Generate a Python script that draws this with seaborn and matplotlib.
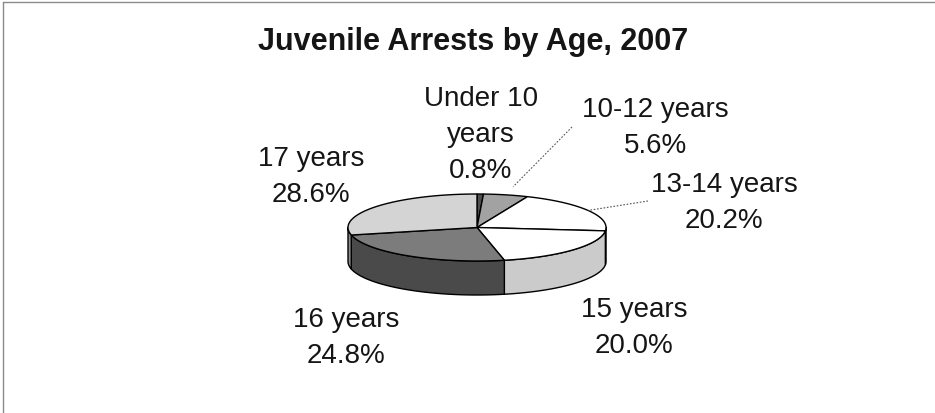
import numpy as np
import matplotlib
matplotlib.use("Agg")
import matplotlib.pyplot as plt
import seaborn as sns
from matplotlib.patches import Polygon

# Juvenile arrests by age group, 2007 (percent of all juvenile arrests)
categories = ["Under 10 years", "10-12 years", "13-14 years", "15 years", "16 years", "17 years"]
label_lines = [["Under 10", "years"], ["10-12 years"], ["13-14 years"], ["15 years"], ["16 years"], ["17 years"]]
shares = [0.8, 5.6, 20.2, 20.0, 24.8, 28.6]

title = "Juvenile Arrests by Age, 2007"

# grey fills for the top faces and the visible outer walls
top_colors = ["#4f4f4f", "#a2a2a2", "#ffffff", "#ffffff", "#7c7c7c", "#d4d4d4"]
side_colors = ["#3a3a3a", "#7a7a7a", "#d9d9d9", "#cbcbcb", "#4a4a4a", "#8c8c8c"]

# label placement: centre x, baseline of first line
label_pos = [(481, 106), (655, 117), (724, 192), (634, 317), (346, 327), (311, 166)]
# leader lines (label anchor, radial factor at slice edge)
leaders = {1: ((572, 128), 1.25), 2: ((648, 202), 1.0)}

sns.set_theme(style="white")
plt.rcParams["font.family"] = ["Liberation Sans", "DejaVu Sans"]

W, H, DPI = 935, 414, 100
fig = plt.figure(figsize=(W / DPI, H / DPI), dpi=DPI)
ax = fig.add_axes([0, 0, 1, 1])
ax.set_xlim(0, W)
ax.set_ylim(H, 0)
ax.axis("off")

# tilted pie geometry
cx, cy, a, b, depth = 477, 228.5, 129, 33.5, 34


def pt(theta_deg, r=1.0):
    t = np.radians(theta_deg)
    return cx + r * a * np.sin(t), cy - r * b * np.cos(t)


edges = np.concatenate([[0], np.cumsum(shares)]) / np.sum(shares) * 360.0

# outer walls (front half only: 90..270 degrees clockwise from top)
for i in range(len(shares)):
    t0, t1 = max(edges[i], 90), min(edges[i + 1], 270)
    if t1 <= t0:
        continue
    ts = np.linspace(t0, t1, 80)
    xs, ys = pt(ts)
    poly = np.column_stack([np.concatenate([xs, xs[::-1]]),
                            np.concatenate([ys, ys[::-1] + depth])])
    ax.add_patch(Polygon(poly, closed=True, facecolor=side_colors[i],
                         edgecolor="black", lw=1.0, joinstyle="round"))

# top faces
for i in range(len(shares)):
    ts = np.linspace(edges[i], edges[i + 1], 120)
    xs, ys = pt(ts)
    poly = np.column_stack([np.concatenate([[cx], xs]), np.concatenate([[cy], ys])])
    ax.add_patch(Polygon(poly, closed=True, facecolor=top_colors[i],
                         edgecolor="black", lw=1.0, joinstyle="round"))

# labels
fs = 20
for i, (x0, y0) in enumerate(label_pos):
    lines = label_lines[i] + [f"{shares[i]:.1f}%"]
    for k, line in enumerate(lines):
        ax.text(x0, y0 + k * 36, line, ha="center", va="baseline",
                fontsize=fs, color="#151515")

# leader lines from labels to their slices
for i, (start, rf) in leaders.items():
    mid = 0.5 * (edges[i] + edges[i + 1])
    ex, ey = pt(mid, rf)
    ax.plot([start[0], ex], [start[1], ey], color="#555555", lw=0.8,
            linestyle=(0, (1.5, 1.5)))

ax.text(473, 50, title, ha="center", va="baseline", fontsize=22,
        fontweight="bold", color="#151515")

# chart frame (top and left edges)
ax.plot([3, W], [3, 3], color="#8a8a8a", lw=1)
ax.plot([3, 3], [3, H], color="#8a8a8a", lw=1)

fig.savefig("out.png", dpi=DPI)
